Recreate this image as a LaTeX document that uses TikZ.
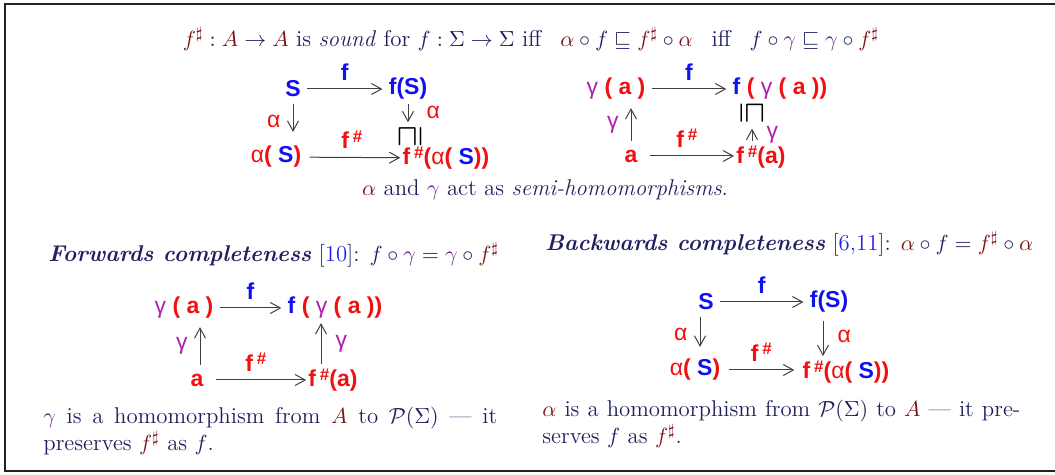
\documentclass[tikz,border=0pt]{standalone}
\usepackage{amsmath,amssymb}
\usepackage{graphicx}
\usepackage{fontspec}
\newfontfamily\dgfont{Liberation Sans}
\usepackage{xcolor}
\usepackage{tikz}
\usetikzlibrary{arrows.meta,positioning,calc}
\definecolor{txtnavy}{HTML}{202060}
\definecolor{shred}{HTML}{7A1616}
\definecolor{gampurple}{HTML}{6A2A88}
\definecolor{citeblue}{HTML}{2020F0}
\definecolor{dblue}{HTML}{1010F0}
\definecolor{dred}{HTML}{F01010}
\definecolor{dmag}{HTML}{B020B0}
\definecolor{framegrey}{HTML}{222222}
\tikzset{
  dnode/.style={font=\dgfont\bfseries\fontsize{11.5}{13}\selectfont, inner sep=1pt},
  mapto/.style={-{Straight Barb[length=5pt,width=5.5pt]}, line width=0.5pt,
                draw=black!75},
  prose/.style={font=\fontsize{11.4}{12.2}\selectfont, text=txtnavy, inner sep=0pt},
  frame/.style={draw=framegrey, line width=1.2pt},
}
% serif maths in colour
\newcommand{\fsh}{{\color{shred}f^{\sharp}}}
\newcommand{\alp}{{\color{shred}\alpha}}
\newcommand{\gam}{{\color{gampurple}\gamma}}
\newcommand{\Aa}{{\color{shred}A}}
\newcommand{\rfc}[1]{[\textcolor{citeblue}{#1}]}
% sans pieces of the squares
\newcommand{\dS}{\textcolor{dblue}{S}}
\newcommand{\dfs}{\textcolor{dred}{f\,\raisebox{.55ex}{\fontsize{8.5}{8.5}\selectfont\#}}}
\newcommand{\dal}{\textcolor{dred}{\mdseries α}}
\newcommand{\dga}{\textcolor{dmag}{\mdseries γ}}
\newcommand{\rp}[1]{\textcolor{dred}{#1}}
\newcommand{\sqle}[2]{\scalebox{1.05}{\rotatebox{#1}{$\boldsymbol{#2}$}}}

\begin{document}
\begin{tikzpicture}[x=0.5pt,y=-0.5pt]
\useasboundingbox (0,0) rectangle (1055,475);

% ========================= frame =========================================
\draw[frame] (1055,4) -- (5,4) -- (5,471) -- (1055,471);

% ========================= soundness =====================================
\node[prose] (title) at (531,39)
   {$\fsh : \Aa \to \Aa$ is \textit{sound} for $f : \Sigma \to \Sigma$ iff\enspace\ $\alp \circ f \sqsubseteq \fsh \circ \alp$\enspace\ iff\enspace\ $f\circ\gam \sqsubseteq \gam\circ\fsh$};

\node[dnode] (S1)   at (293,89)  {\dS};
\node[dnode] (fS1)  at (408,89)  {\textcolor{dblue}{f(S)}};
\node[dnode] (aS1)  at (276,157) {\dal\rp{(}\ \dS\rp{)}};
\node[dnode] (faS1) at (446,158) {\dfs\rp{(}\dal\rp{(}\ \dS\rp{))}};
\node[dnode] (sq1)  at (410,136) {\sqle{90}{\sqsupseteq}};

\draw[mapto, shorten <=2pt, shorten >=2pt] (S1) -- (fS1) node[dnode, midway, above=3pt] {\textcolor{dblue}{f}};
\draw[mapto, shorten <=2pt, shorten >=6pt] (S1.south) -- (S1.south |- aS1.north) node[dnode, midway, left=5pt] {\dal};
\draw[mapto, shorten <=3pt] (aS1) -- (faS1) node[dnode, midway, above=3pt] {\dfs};
\draw[mapto, shorten <=1pt] (fS1.south) -- (fS1.south |- sq1.north) node[dnode, midway, right=8pt] {\dal};

\node[dnode] (ga2)  at (616,89)  {\dga\ \rp{( a )}};
\node[dnode] (fga2) at (780,89)  {\textcolor{dblue}{f}\ \rp{(}\ \dga\ \rp{( a ))}};
\node[dnode] (a2)   at (631,156) {\rp{a}};
\node[dnode] (fa2)  at (761,157) {\dfs\rp{(a)}};
\node[dnode] (sq2)  at (752,113) {\sqle{-90}{\sqsubseteq}};

\draw[mapto, shorten <=2pt, shorten >=2pt] (ga2) -- (ga2 -| fga2.west) node[dnode, midway, above=3pt] {\textcolor{dblue}{f}};
\draw[mapto, shorten <=3pt, shorten >=3pt] (a2.north) -- (a2.north |- ga2.south) node[dnode, midway, left=5pt] {\dga};
\draw[mapto, shorten <=5pt] (a2) -- (a2 -| fa2.west) node[dnode, midway, above=3pt] {\dfs};
\draw[mapto, shorten <=1pt, shorten >=1pt] (fa2.north -| sq2) -- (sq2.south) node[dnode, midway, right=6pt] {\dga};

\node[prose] (semi) at (545,190) {$\alp$ and $\gam$ act as \textit{semi-homomorphisms}.};

% ========================= forwards completeness =========================
\node[prose, anchor=west] (fwd) at (48,255)
   {\textbf{\textit{Forwards completeness}} \rfc{10}: $f\circ\gam = \gam\circ\fsh$};

\node[dnode] (ga3)  at (184,308) {\dga\ \rp{( a )}};
\node[dnode] (fga3) at (335,308) {\textcolor{dblue}{f}\ \rp{(}\ \dga\ \rp{( a ))}};
\node[dnode] (a3)   at (197,380) {\rp{a}};
\node[dnode] (fa3)  at (333,380) {\dfs\rp{(a)}};

\draw[mapto, shorten <=2pt, shorten >=2pt] (ga3) -- (ga3 -| fga3.west) node[dnode, midway, above=3pt] {\textcolor{dblue}{f}};
\draw[mapto, shorten <=3pt, shorten >=3pt] ([xshift=1.5pt]a3.north) -- ([xshift=1.5pt]a3.north |- ga3.south) node[dnode, midway, left=5pt] {\dga};
\draw[mapto, shorten <=5pt] (a3) -- (a3 -| fa3.west) node[dnode, midway, above=3pt] {\dfs};
\draw[mapto, shorten <=1pt, shorten >=1pt] ([xshift=-6pt]fa3.north) -- ([xshift=-6pt]fa3.north |- fga3.south) node[dnode, midway, right=6pt] {\dga};

\node[prose, anchor=north west, text width=227pt, align=justify] (fwdtxt) at (43,407)
   {$\gam$ is a homomorphism from $\Aa$ to $\mathcal{P}(\Sigma)$ --- it\linebreak
    preserves $\fsh$ as $f$.};

% ========================= backwards completeness ========================
\node[prose, anchor=west] (bwd) at (545,244)
   {\textbf{\textit{Backwards completeness}} \rfc{6,11}: $\alp\circ f = \fsh\circ\alp$};

\node[dnode] (S4)   at (706,302) {\dS};
\node[dnode] (fS4)  at (829,302) {\textcolor{dblue}{f(S)}};
\node[dnode] (aS4)  at (695,370) {\dal\rp{(}\ \dS\rp{)}};
\node[dnode] (faS4) at (846,372) {\dfs\rp{(}\dal\rp{(}\ \dS\rp{))}};

\draw[mapto, shorten <=2pt, shorten >=2pt] (S4) -- (fS4) node[dnode, midway, above=3pt] {\textcolor{dblue}{f}};
\draw[mapto, shorten <=2pt, shorten >=5pt] ([xshift=-3pt]S4.south) -- ([xshift=-3pt]S4.south |- aS4.north) node[dnode, midway, left=5pt] {\dal};
\draw[mapto, shorten <=3pt, shorten >=3pt] (aS4) -- (aS4 -| faS4.west) node[dnode, midway, above=3pt] {\dfs};
\draw[mapto, shorten <=3pt, shorten >=1pt] ([xshift=-3pt]fS4.south) -- ([xshift=-3pt]fS4.south |- faS4.north) node[dnode, midway, right=6pt] {\dal};

\node[prose, anchor=north west, text width=239pt, align=justify] (bwdtxt) at (542,400)
   {$\alp$ is a homomorphism from $\mathcal{P}(\Sigma)$ to $\Aa$ --- it pre-\linebreak
    serves $f$ as $\fsh$.};
\end{tikzpicture}
\end{document}
